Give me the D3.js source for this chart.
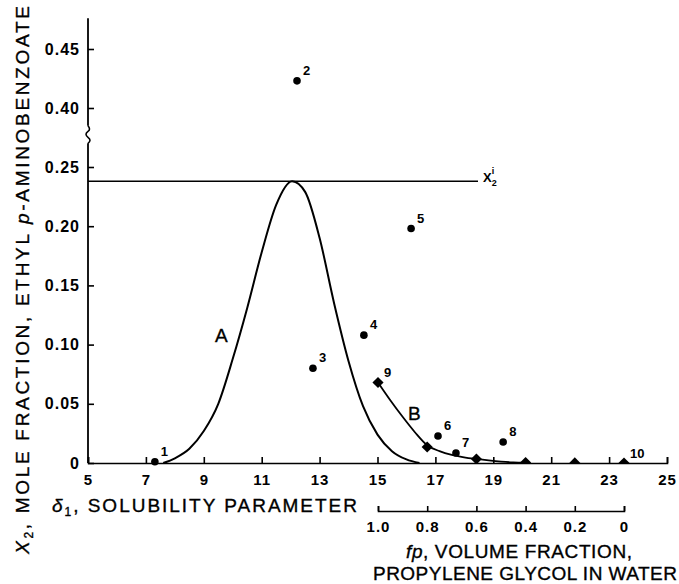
<!DOCTYPE html>
<html>
<head>
<meta charset="utf-8">
<script src="https://cdn.jsdelivr.net/npm/d3@7"></script>
<style>
  body { margin: 0; background: #fff; }
  svg { display: block; font-family: "Liberation Sans", Arial, sans-serif; }
  .axis text { font-size: 15px; font-weight: bold; fill: #000; letter-spacing: 1px; }
  .yaxis text { font-size: 16px; }
  .axis line, .axis path { stroke: #000; stroke-width: 1.6; }
  .title { stroke: #000; stroke-width: 0.35; }
</style>
</head>
<body>
<svg width="679" height="584"></svg>
<script>
// Tick values.
var deltaTicks = [5, 7, 9, 11, 13, 15, 17, 19, 21, 23, 25];
var x2TicksLower = [0, 0.05, 0.10, 0.15, 0.20, 0.25];
var x2TicksUpper = [0.40, 0.45];
var fpTicks = [1.0, 0.8, 0.6, 0.4, 0.2, 0];

// Ideal solubility of the solute.
var x2Ideal = 0.238;

// Curve A, regular solution line.
var curveADelta = [7.6, 8.0, 8.5, 9.0, 9.5, 10.0, 10.5, 11.0, 11.5, 12.05, 12.5, 13.0, 13.5, 14.0, 14.5, 15.0, 15.5, 16.0, 16.45];
var curveAX2 = [0, 0.004, 0.012, 0.027, 0.050, 0.088, 0.131, 0.178, 0.218, 0.238, 0.229, 0.190, 0.135, 0.086, 0.048, 0.024, 0.010, 0.003, 0];

// Curve B, propylene glycol - water mixtures, against volume fraction.
var curveBFp = [1.0, 0.95, 0.9, 0.85, 0.8, 0.75, 0.7, 0.65, 0.6, 0.55, 0.5, 0.45, 0.4];
var curveBX2 = [0.068, 0.053, 0.039, 0.026, 0.015, 0.010, 0.0068, 0.0048, 0.0034, 0.0022, 0.0012, 0.0005, 0.0002];

// Pure solvents (circles).
var solventLabels = ["1", "2", "3", "4", "5", "6", "7", "8"];
var solventDelta = [7.31, 12.22, 12.77, 14.53, 16.16, 17.09, 17.71, 19.34];
var solventX2 = [0.001, 0.423, 0.080, 0.108, 0.198, 0.0228, 0.0084, 0.0177];

// Mixtures (diamonds).
var mixtureLabels = ["9", "", "", "", "", "10"];
var mixtureFp = [1.0, 0.8, 0.6, 0.4, 0.2, 0];
var mixtureX2 = [0.068, 0.0135, 0.0034, 0.0004, 0.0001, 0.00002];

var svg = d3.select("svg");

// Scales.
var x = d3.scaleLinear().domain([5, 25]).range([88, 667]);
var yLow = d3.scaleLinear().domain([0, 0.25]).range([463, 167]);
var yHigh = d3.scaleLinear().domain([0.40, 0.45]).range([108, 49]);
var fp = d3.scaleLinear().domain([1, 0]).range([378, 624]);

function y(v) {
	return v > 0.3 ? yHigh(v) : yLow(v);
}

function fmt2(d) {
	return d === 0 ? "0" : d3.format(".2f")(d);
}

// Bottom axis, solubility parameter.
svg.append("g")
	.attr("class", "axis")
	.attr("transform", "translate(0," + yLow(0) + ")")
	.call(d3.axisBottom(x).tickValues(deltaTicks).tickSize(-6).tickPadding(11).tickFormat(d3.format("d")));

// Left axis, broken in two parts.
var gLow = svg.append("g")
	.attr("class", "axis yaxis")
	.attr("transform", "translate(" + x(5) + ",0)")
	.call(d3.axisLeft(yLow).tickValues(x2TicksLower).tickSize(-6).tickPadding(8).tickFormat(fmt2));
gLow.select(".domain").remove();
var gHigh = svg.append("g")
	.attr("class", "axis yaxis")
	.attr("transform", "translate(" + x(5) + ",0)")
	.call(d3.axisLeft(yHigh).tickValues(x2TicksUpper).tickSize(-6).tickPadding(8).tickFormat(fmt2));
gHigh.select(".domain").remove();

var ax = x(5);
svg.append("line")
	.attr("x1", ax).attr("x2", ax)
	.attr("y1", yLow(0)).attr("y2", yLow(0.27))
	.attr("stroke", "#000").attr("stroke-width", 1.8);
svg.append("line")
	.attr("x1", ax).attr("x2", ax)
	.attr("y1", yHigh(0.385)).attr("y2", yHigh(0.476))
	.attr("stroke", "#000").attr("stroke-width", 1.8);
// Break mark.
svg.append("path")
	.attr("d", "M" + ax + "," + yLow(0.27) + " q4,-3 0,-6 q-4,-3 0,-6 q3,-2 0,-" + (yLow(0.27) - yHigh(0.385) - 12))
	.attr("fill", "none").attr("stroke", "#000").attr("stroke-width", 1.6);

// Volume fraction axis.
svg.append("g")
	.attr("class", "axis")
	.attr("transform", "translate(0,511)")
	.call(d3.axisBottom(fp).tickValues(fpTicks).tickSize(-5).tickPadding(10)
		.tickFormat(function(d) { return d === 0 ? "0" : d.toFixed(1); }));

// Ideal solubility line.
svg.append("line")
	.attr("x1", ax).attr("x2", 478)
	.attr("y1", yLow(x2Ideal)).attr("y2", yLow(x2Ideal))
	.attr("stroke", "#000").attr("stroke-width", 1.6);
var lab = svg.append("text")
	.attr("x", 483).attr("y", yLow(x2Ideal) + 1)
	.attr("font-size", 13).attr("font-weight", "bold");
lab.append("tspan").text("X");
lab.append("tspan").attr("font-size", 9).attr("dy", 4).text("2");
lab.append("tspan").attr("font-size", 9).attr("dx", -5).attr("dy", -12).text("i");

// Curves.
var lineA = d3.line()
	.x(function(d, i) { return x(curveADelta[i]); })
	.y(function(d, i) { return yLow(curveAX2[i]); })
	.curve(d3.curveMonotoneX);
svg.append("path")
	.attr("d", lineA(curveADelta))
	.attr("fill", "none").attr("stroke", "#000").attr("stroke-width", 2);

var lineB = d3.line()
	.x(function(d, i) { return fp(curveBFp[i]); })
	.y(function(d, i) { return yLow(curveBX2[i]); })
	.curve(d3.curveMonotoneX);
svg.append("path")
	.attr("d", lineB(curveBFp))
	.attr("fill", "none").attr("stroke", "#000").attr("stroke-width", 1.8);

// Solvent points.
svg.append("g")
	.selectAll("circle")
	.data(solventDelta)
	.enter()
	.append("circle")
	.attr("cx", function(d) { return x(d); })
	.attr("cy", function(d, i) { return y(solventX2[i]); })
	.attr("r", 3.8)
	.attr("fill", "#000");

svg.append("g")
	.selectAll("text")
	.data(solventLabels)
	.enter()
	.append("text")
	.attr("x", function(d, i) { return x(solventDelta[i]) + 6; })
	.attr("y", function(d, i) { return y(solventX2[i]) - 6; })
	.attr("font-size", 13).attr("font-weight", "bold")
	.text(function(d) { return d; });

// Mixture points, clipped at the axis.
svg.append("clipPath").attr("id", "above")
	.append("rect").attr("x", 0).attr("y", 0).attr("width", 679).attr("height", yLow(0));
svg.append("g")
	.attr("clip-path", "url(#above)")
	.selectAll("path")
	.data(mixtureFp)
	.enter()
	.append("path")
	.attr("d", d3.symbol().type(d3.symbolSquare).size(62))
	.attr("transform", function(d, i) {
		return "translate(" + fp(d) + "," + yLow(mixtureX2[i]) + ") rotate(45)";
	})
	.attr("fill", "#000");

svg.append("g")
	.selectAll("text")
	.data(mixtureLabels)
	.enter()
	.append("text")
	.attr("x", function(d, i) { return fp(mixtureFp[i]) + 6; })
	.attr("y", function(d, i) { return yLow(mixtureX2[i]) - 5; })
	.attr("font-size", 13).attr("font-weight", "bold")
	.text(function(d) { return d; });

// Curve labels.
svg.append("text")
	.attr("class", "title")
	.attr("x", x(9.39)).attr("y", yLow(0.102))
	.attr("font-size", 19)
	.text("A");
svg.append("text")
	.attr("class", "title")
	.attr("x", x(16.05)).attr("y", yLow(0.036))
	.attr("font-size", 19)
	.text("B");

// Axis titles.
var yt = svg.append("text")
	.attr("class", "title")
	.attr("transform", "translate(29,280) rotate(-90)")
	.attr("text-anchor", "middle")
	.attr("font-size", 19)
	.attr("textLength", 548).attr("lengthAdjust", "spacing");
yt.append("tspan").attr("font-style", "italic").text("X");
yt.append("tspan").attr("font-size", 12).attr("dy", 4).text("2");
yt.append("tspan").attr("dy", -4).text(", MOLE FRACTION, ETHYL ");
yt.append("tspan").attr("font-style", "italic").text("p");
yt.append("tspan").text("-AMINOBENZOATE");

var xt = svg.append("text")
	.attr("class", "title")
	.attr("x", 52).attr("y", 512)
	.attr("font-size", 19)
	.attr("textLength", 305).attr("lengthAdjust", "spacing");
xt.append("tspan").attr("font-style", "italic").text("δ");
xt.append("tspan").attr("font-size", 12).attr("dy", 4).text("1");
xt.append("tspan").attr("dy", -4).text(", SOLUBILITY PARAMETER");

var ft = svg.append("text")
	.attr("class", "title")
	.attr("x", 406).attr("y", 558)
	.attr("font-size", 19)
	.attr("textLength", 226).attr("lengthAdjust", "spacing");
ft.append("tspan").attr("font-style", "italic").text("fp");
ft.append("tspan").text(", VOLUME FRACTION,");

svg.append("text")
	.attr("class", "title")
	.attr("x", 373).attr("y", 580)
	.attr("font-size", 19)
	.attr("textLength", 304).attr("lengthAdjust", "spacing")
	.text("PROPYLENE GLYCOL IN WATER");
</script>
</body>
</html>
